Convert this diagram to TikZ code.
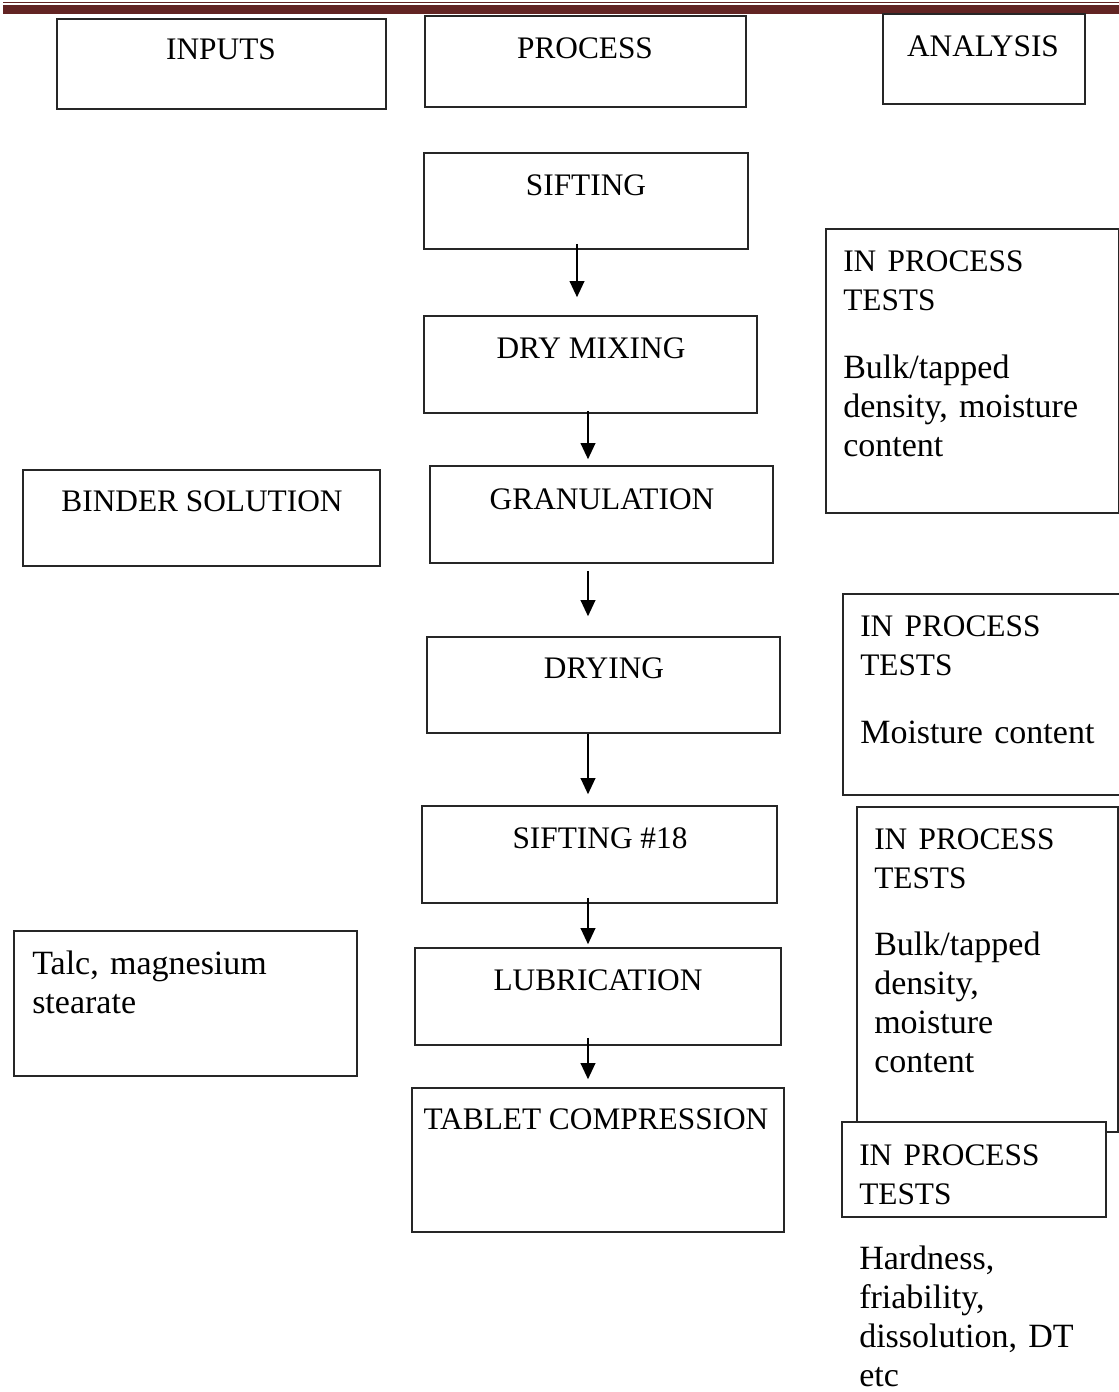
\documentclass[tikz,border=0pt]{standalone}
\usepackage{fontspec}
\setmainfont{Liberation Serif}
\usetikzlibrary{arrows.meta,fit,calc}
\definecolor{barred}{HTML}{622423}
\newcommand{\capf}{\fontsize{23.5pt}{29.25pt}\selectfont}
\newcommand{\lowf}{\fontsize{25.5pt}{29.25pt}\selectfont\frenchspacing}
\begin{document}
\begin{tikzpicture}[x=0.75pt,y=-0.75pt,
  bx/.style={draw=black!85,line width=1.2pt,fill=white,inner sep=0pt},
  ctext/.style={anchor=base,inner sep=0pt,font=\capf},
  ltext/.style={anchor=base west,inner sep=0pt,text width=300pt,align=left,font=\lowf},
  arr/.style={line width=1.1pt,-{Triangle[width=11pt,length=12pt]}}]
\useasboundingbox (0,0) rectangle (1119,1392);
% top bar
\fill[barred] (3,1.5) rectangle (1119,3.3);
\fill[barred] (3,4.7) rectangle (1119,14);
% column headers
\node[bx,fit={(57,19) (386,109)}] (inputs) {};
\node[ctext] (tinputs) at (221,59) {INPUTS};
\node[bx,fit={(425,16) (746,107)}] (process) {};
\node[ctext] (tprocess) at (585,58) {PROCESS};
\node[bx,fit={(883,14) (1085,104)}] (analysis) {};
\node[ctext] (tanalysis) at (983,56) {ANALYSIS};
% process boxes
\node[bx,fit={(424,153) (748,249)}] (sift) {};
\node[ctext] (tsift) at (586,195) {SIFTING};
\node[bx,fit={(424,316) (757,413)}] (dry) {};
\node[ctext] (tdry) at (591,358) {DRY MIXING};
\node[bx,fit={(430,466) (773,563)}] (gran) {};
\node[ctext] (tgran) at (602,509) {GRANULATION};
\node[bx,fit={(427,637) (780,733)}] (drying) {};
\node[ctext] (tdrying) at (604,678) {DRYING};
\node[bx,fit={(422,806) (777,903)}] (sift18) {};
\node[ctext] (tsift18) at (600,848) {SIFTING \#18};
\node[bx,fit={(415,948) (781,1045)}] (lub) {};
\node[ctext] (tlub) at (598,990) {LUBRICATION};
\node[bx,fit={(412,1088) (784,1232)}] (tab) {};
\node[ctext] (ttab) at (596,1129) {TABLET COMPRESSION};
% inputs
\node[bx,fit={(23,470) (380,566)}] (binder) {};
\node[ctext] (tbinder) at (202,511) {BINDER SOLUTION};
\node[bx,fit={(14,931) (357,1076)}] (talc) {};
\node[ltext] (ttalc) at (32,974) {Talc, magnesium\\stearate};
% analysis boxes
\node[bx,fit={(826,229) (1119,513)}] (ipt1) {};
\node[ltext] (tipt1) at (843,271) {{\capf IN PROCESS\\TESTS}\\[22pt]Bulk/tapped\\density, moisture\\content};
\node[bx,fit={(843,594) (1121,795)}] (ipt2) {};
\node[ltext] (tipt2) at (860,636) {{\capf IN PROCESS\\TESTS}\\[22pt]Moisture content};
\node[bx,fit={(857,807) (1118,1132)}] (ipt3) {};
\node[ltext] (tipt3) at (874,849) {{\capf IN PROCESS\\TESTS}\\[21pt]Bulk/tapped\\density,\\moisture\\content};
\node[bx,fit={(842,1122) (1106,1217)}] (ipt4) {};
\node[ltext] (tipt4) at (859,1165) {{\capf IN PROCESS\\TESTS}};
\node[ltext] (thard) at (859,1269) {Hardness,\\friability,\\dissolution, DT\\etc};
% arrows
\coordinate (a1) at (577,0);
\coordinate (a2) at (588,0);
\draw[arr] ($(sift.south -| a1)+(0,-6)$) -- ($(dry.north -| a1)+(0,-18)$);
\draw[arr] ($(dry.south -| a2)+(0,-3)$) -- ($(gran.north -| a2)+(0,-6)$);
\draw[arr] ($(gran.south -| a2)+(0,7)$) -- ($(drying.north -| a2)+(0,-20)$);
\draw[arr] (drying.south -| a2) -- ($(sift18.north -| a2)+(0,-11)$);
\draw[arr] ($(sift18.south -| a2)+(0,-6)$) -- ($(lub.north -| a2)+(0,-3)$);
\draw[arr] ($(lub.south -| a2)+(0,-8)$) -- ($(tab.north -| a2)+(0,-8)$);
\end{tikzpicture}
\end{document}
